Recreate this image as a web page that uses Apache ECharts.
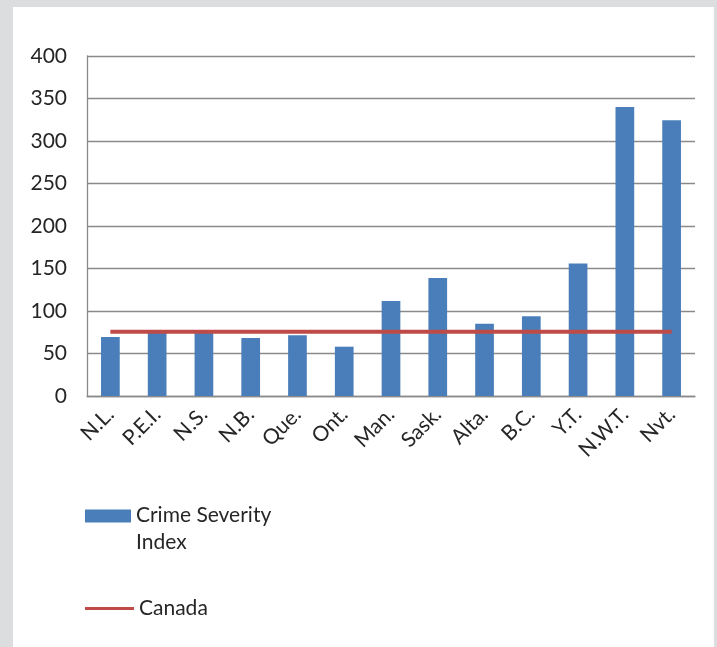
<!DOCTYPE html>
<html>
<head>
<meta charset="utf-8">
<script src="https://cdn.jsdelivr.net/npm/echarts@6/dist/echarts.min.js"></script>
<style>
  html, body { margin: 0; padding: 0; background: #dcdddf; width: 717px; height: 647px; overflow: hidden; }
  #chart { position: absolute; left: 13px; top: 7px; width: 701px; height: 640px; background: #ffffff; }
</style>
</head>
<body>
<div id="chart"></div>
<script>
const categories = ['N.L.', 'P.E.I.', 'N.S.', 'N.B.', 'Que.', 'Ont.', 'Man.', 'Sask.', 'Alta.', 'B.C.', 'Y.T.', 'N.W.T.', 'Nvt.'];
const crimeSeverityIndex = [69.4, 74.5, 75, 68.2, 71.4, 58, 111.8, 138.8, 85.1, 93.8, 155.8, 340, 324.5];
const canadaValue = 75.7;
const canadaLine = categories.map(() => canadaValue);
const yTicks = [0, 50, 100, 150, 200, 250, 300, 350, 400];

const FONT = 'Lato, "Noto Sans", sans-serif';
const chart = echarts.init(document.getElementById('chart'), null, { renderer: 'canvas' });
chart.setOption({
  animation: false,
  backgroundColor: '#ffffff',
  textStyle: { fontFamily: FONT },
  grid: { left: 74, right: 19, top: 49, bottom: 251, containLabel: false },
  xAxis: {
    type: 'category',
    data: categories,
    boundaryGap: true,
    axisLine: { show: true, lineStyle: { color: '#8a8a8a', width: 1.3 } },
    axisTick: { show: false },
    axisLabel: { rotate: 45, margin: 15, fontSize: 21, color: '#262626', fontFamily: FONT, interval: 0 }
  },
  yAxis: {
    type: 'value',
    min: yTicks[0],
    max: yTicks[yTicks.length - 1],
    interval: 50,
    axisLine: { show: true, lineStyle: { color: '#8a8a8a', width: 1.3 } },
    axisTick: { show: false },
    splitLine: { show: true, lineStyle: { color: '#8a8a8a', width: 1.3 } },
    axisLabel: { fontSize: 21, color: '#262626', margin: 20, fontFamily: FONT }
  },
  legend: [
    {
      data: [{ name: 'Crime Severity Index', icon: 'path://M0,0L46,0L46,13L0,13Z M0,39L0,39Z' }],
      orient: 'vertical',
      left: 72,
      top: 495,
      padding: 0,
      itemWidth: 46,
      itemHeight: 39,
      formatter: () => 'Crime Severity\nIndex',
      textStyle: { fontSize: 21, color: '#262626', fontFamily: FONT, lineHeight: 27 }
    },
    {
      data: [{ name: 'Canada', icon: 'rect' }],
      orient: 'vertical',
      left: 72,
      top: 591,
      padding: 0,
      itemWidth: 49,
      itemHeight: 3,
      textStyle: { fontSize: 21, color: '#262626', fontFamily: FONT }
    }
  ],
  series: [
    {
      name: 'Crime Severity Index',
      type: 'bar',
      data: crimeSeverityIndex,
      barWidth: '40%',
      itemStyle: { color: '#4a7ebb' }
    },
    {
      name: 'Canada',
      type: 'line',
      data: canadaLine,
      symbol: 'none',
      itemStyle: { color: '#be4b48' },
      lineStyle: { color: '#be4b48', width: 4 },
      z: 3
    }
  ]
});
</script>
</body>
</html>
